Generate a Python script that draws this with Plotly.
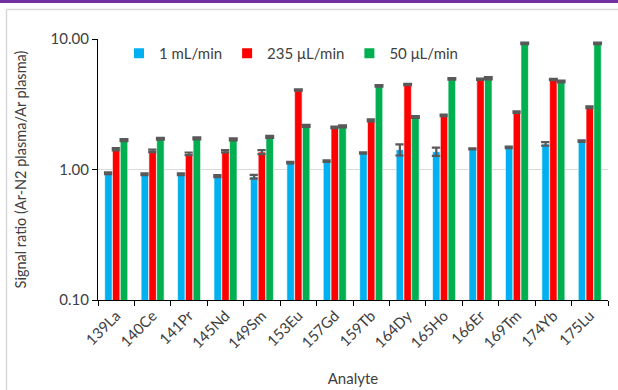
import plotly.graph_objects as go

analytes = ["139La", "140Ce", "141Pr", "145Nd", "149Sm", "153Eu", "157Gd",
            "159Tb", "164Dy", "165Ho", "166Er", "169Tm", "174Yb", "175Lu"]

flow_1ml = [0.935, 0.92, 0.92, 0.89, 0.88, 1.13, 1.16,
            1.34, 1.42, 1.37, 1.44, 1.48, 1.57, 1.65]
flow_1ml_err = [0.015, 0.015, 0.015, 0.015, 0.03, 0.015, 0.015,
                0.015, 0.14, 0.10, 0.015, 0.02, 0.05, 0.02]

flow_235 = [1.43, 1.39, 1.32, 1.38, 1.36, 4.07, 2.10,
            2.38, 4.48, 2.60, 4.92, 2.75, 4.89, 3.00]
flow_235_err = [0.03, 0.03, 0.03, 0.03, 0.05, 0.05, 0.03,
                0.04, 0.05, 0.04, 0.06, 0.04, 0.06, 0.05]

flow_50 = [1.68, 1.72, 1.73, 1.70, 1.78, 2.16, 2.14,
           4.38, 2.52, 4.95, 5.00, 9.26, 4.72, 9.26]
flow_50_err = [0.03, 0.03, 0.03, 0.03, 0.03, 0.04, 0.04,
               0.06, 0.04, 0.07, 0.10, 0.12, 0.07, 0.12]

series = [
    ("1 mL/min", flow_1ml, flow_1ml_err, "#00B0F0"),
    ("235 μL/min", flow_235, flow_235_err, "#FF0000"),
    ("50 μL/min", flow_50, flow_50_err, "#00B050"),
]

FONT = "Lato, 'Open Sans', sans-serif"
TEXT = "#404040"

fig = go.Figure()
for name, vals, errs, color in series:
    fig.add_trace(go.Bar(
        name=name, x=analytes, y=vals,
        marker=dict(color=color, line=dict(color="white", width=0.6)),
        error_y=dict(type="data", array=errs, visible=True,
                     color="#595959", thickness=2.2, width=4.5),
    ))

W, H = 618, 390
L, R, T, B = 98, 10, 39, 90
pw, ph = W - L - R, H - T - B

def px_x(p):
    return (p - L) / pw

def px_y(p):
    return (H - B - p) / ph

fig.update_layout(
    width=W, height=H,
    margin=dict(l=L, r=R, t=T, b=B, autoexpand=False),
    paper_bgcolor="white", plot_bgcolor="white",
    barmode="group", bargap=0.36, bargroupgap=0.04,
    font=dict(family=FONT, color=TEXT, size=15),
    showlegend=True,
    legend=dict(orientation="h", x=px_x(119), y=px_y(37), xanchor="left",
                yanchor="top", font=dict(size=15, color=TEXT),
                bgcolor="rgba(0,0,0,0)", itemwidth=30, tracegroupgap=0,
                itemsizing="constant"),
    xaxis=dict(
        type="category", showline=True, linecolor="black", linewidth=1.3,
        ticks="outside", tickson="boundaries", ticklen=5, tickcolor="black",
        tickangle=-45, tickfont=dict(size=15, color=TEXT), automargin=False,
        title=dict(text="Analyte", font=dict(size=15, color=TEXT), standoff=22),
        showgrid=False,
    ),
    yaxis=dict(
        type="log", range=[-1, 1], showline=True, linecolor="black",
        linewidth=1.3, ticks="outside", ticklen=5, tickcolor="black",
        tickvals=[0.1, 1, 10], ticktext=["0.10", "1.00", "10.00"],
        tickfont=dict(size=15, color=TEXT), automargin=False,
        showgrid=True, gridcolor="#D9D9D9", gridwidth=1.3,
        title=dict(text="Signal ratio (Ar-N2 plasma/Ar plasma)",
                   font=dict(size=14.5, color=TEXT), standoff=20),
        zeroline=False,
    ),
    shapes=[
        dict(type="rect", xref="paper", yref="paper",
             x0=px_x(0), x1=px_x(W), y0=px_y(3), y1=px_y(0),
             fillcolor="#7030A0", line=dict(width=0), layer="below"),
        dict(type="line", xref="paper", yref="paper",
             x0=px_x(6.5), x1=px_x(W), y0=px_y(9.5), y1=px_y(9.5),
             line=dict(color="#D9D9D9", width=1.5)),
        dict(type="line", xref="paper", yref="paper",
             x0=px_x(6.5), x1=px_x(6.5), y0=px_y(9.5), y1=px_y(H),
             line=dict(color="#D9D9D9", width=1.5)),
    ],
)

fig.write_html("out.html")
